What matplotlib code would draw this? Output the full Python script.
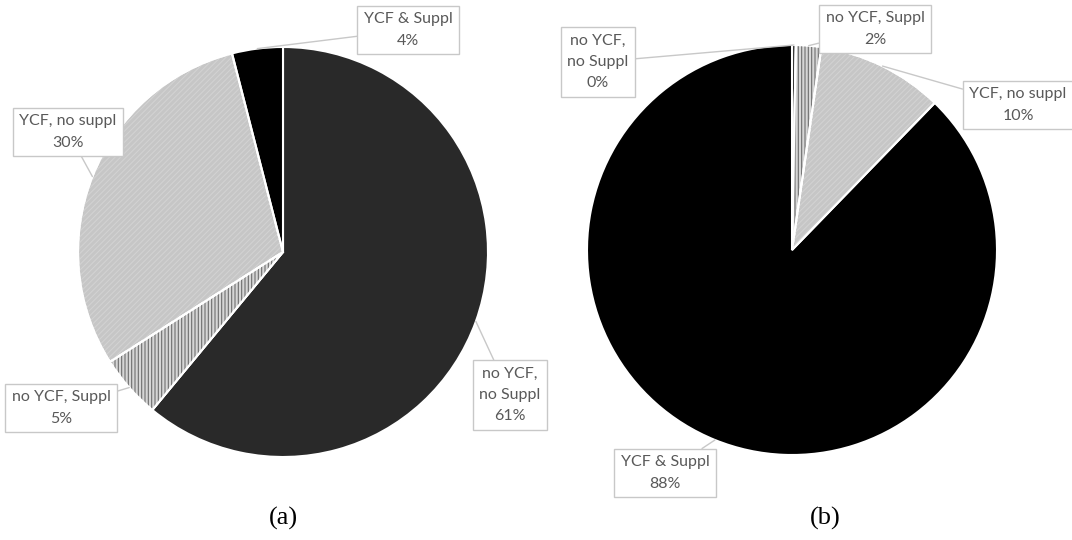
import matplotlib
matplotlib.use("Agg")
import matplotlib.pyplot as plt
from matplotlib.patches import Wedge
import numpy as np

# ---- data ----
categories_a = ["no YCF,\nno Suppl", "no YCF, Suppl", "YCF, no suppl", "YCF & Suppl"]
values_a = [61, 5, 30, 4]
categories_b = ["no YCF,\nno Suppl", "no YCF, Suppl", "YCF, no suppl", "YCF & Suppl"]
values_b = [0.3, 2, 10, 88]
panel_labels = ["(a)", "(b)"]

# ---- styles ----
face_colors = ["#292929", "#d6d6d6", "#c6c6c6", "#000000"]
hatches = [None, "|||||", "//////", None]
hatch_colors = [None, "#6e6e6e", "#d2d2d2", None]

W, H = 1072, 540
fig = plt.figure(figsize=(W / 100, H / 100), dpi=100)
ax = fig.add_axes([0, 0, 1, 1])

plt.rcParams["hatch.linewidth"] = 0.8

TXT = "#595959"
BOX = "#c8c8c8"
FONT = "Lato"


def draw_pie(center, radius, values, cats, label_pos):
    wedges, _ = ax.pie(values, colors=face_colors, startangle=90, counterclock=False,
                       center=center, radius=radius,
                       wedgeprops=dict(edgecolor="white", linewidth=1.5))
    total = sum(values)
    for i, w in enumerate(wedges):
        if hatches[i]:
            hw = Wedge(w.center, w.r, w.theta1, w.theta2, facecolor="none",
                       edgecolor=hatch_colors[i], linewidth=0, hatch=hatches[i])
            ax.add_patch(hw)
            ax.add_patch(Wedge(w.center, w.r, w.theta1, w.theta2, facecolor="none",
                               edgecolor="white", linewidth=1.5))
        ang = np.deg2rad((w.theta1 + w.theta2) / 2)
        px = center[0] + radius * np.cos(ang)
        py = center[1] + radius * np.sin(ang)
        pct = f"{round(values[i] / total * 100):.0f}%"
        ax.annotate(f"{cats[i]}\n{pct}", xy=(px, py), xytext=label_pos[i],
                    ha="center", va="center", fontsize=11.5, family=FONT, color=TXT,
                    linespacing=1.65,
                    bbox=dict(boxstyle="square,pad=0.4", facecolor="white",
                              edgecolor=BOX, linewidth=1),
                    arrowprops=dict(arrowstyle="-", color=BOX, linewidth=1,
                                    shrinkA=0, shrinkB=0))


# layout (pixel coords, y measured from bottom)
draw_pie((283, H - 252), 205, values_a, categories_a,
         [(510, H - 395), (61, H - 408), (68, H - 132), (408, H - 30)])
draw_pie((792, H - 250), 205, values_b, categories_b,
         [(598, H - 62), (875, H - 29), (1018, H - 105), (665, H - 473)])

ax.text(283, H - 518, panel_labels[0], ha="center", va="center", fontsize=19,
        family="Liberation Serif", color="black")
ax.text(825, H - 518, panel_labels[1], ha="center", va="center", fontsize=19,
        family="Liberation Serif", color="black")

ax.set_xlim(0, W)
ax.set_ylim(0, H)
ax.set_aspect("equal")
ax.axis("off")

fig.savefig("out.png", dpi=100)
